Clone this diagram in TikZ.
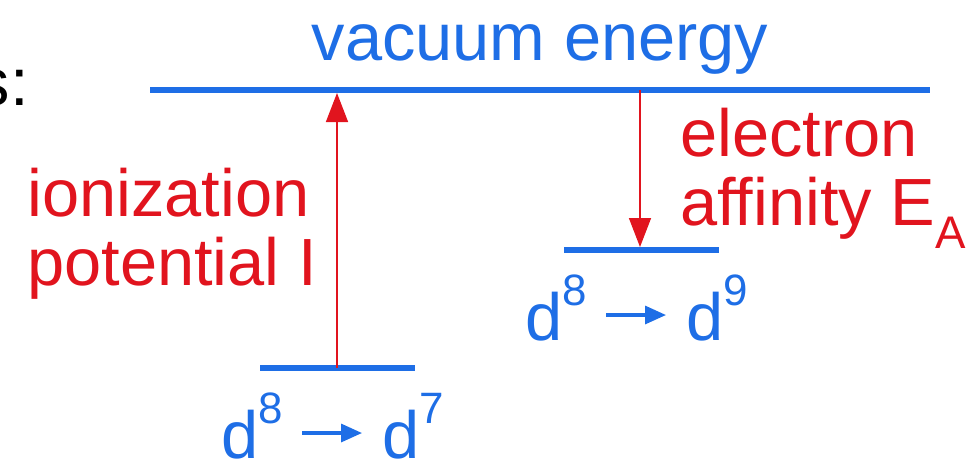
\documentclass[tikz,border=0pt]{standalone}
\usepackage{fontspec}
\setmainfont{Liberation Sans}
\usetikzlibrary{arrows.meta}
\definecolor{vblue}{RGB}{30,110,230}
\definecolor{ered}{RGB}{225,20,30}
% d^n -> d^m configuration label
\newcommand{\cfg}[2]{d\raisebox{0.7cm}{\fontsize{25}{25}\selectfont #1}\hspace{0.35cm}\tikz[baseline={(0,-0.5cm)}]\draw[vblue,line width=0.065cm,-{Triangle[length=0.42cm,width=0.36cm]}] (0,0) -- (1.2cm,0);\hspace{0.38cm}d\raisebox{0.7cm}{\fontsize{25}{25}\selectfont #2}}

\begin{document}
\begin{tikzpicture}[x=0.02cm,y=-0.02cm,
  lbl/.style={font=\fontsize{38}{39}\selectfont, inner sep=0pt},
  level/.style={draw=vblue, line width=0.12cm},
  excite/.style={draw=ered, line width=0.03cm, -{Triangle[length=0.58cm,width=0.44cm]}}]
\useasboundingbox (0,0) rectangle (968,461);
\clip (0,0) rectangle (968,461);
\node[lbl, anchor=base east] (colon) at (29,105) {s:};
\node[lbl, text=vblue, anchor=base] (vac) at (540,60) {vacuum energy};
% levels
\coordinate (vacL) at (150,90); \coordinate (vacR) at (930,90);
\coordinate (ionL) at (260,368); \coordinate (ionR) at (415,368);
\coordinate (affL) at (564,250); \coordinate (affR) at (719,250);
\draw[level] (vacL) -- (vacR);
\draw[level] (ionL) -- (ionR);
\draw[level] (affL) -- (affR);
% transitions
\coordinate (ionlow) at (337,368); \coordinate (iontop) at (337,93);
\coordinate (afftop) at (640,90); \coordinate (afflow) at (640,247);
\draw[excite] (ionlow) -- (iontop);
\draw[excite] (afftop) -- (afflow);
\node[lbl, text=ered, align=left, anchor=base west] (ionlbl) at (27,285) {ionization\\potential I};
\node[lbl, text=ered, align=left, anchor=base west] (afflbl) at (680,225) {electron\\affinity E\raisebox{-0.46cm}{\fontsize{26}{26}\selectfont A}};
\node[lbl, text=vblue, anchor=base west] (d9) at (525,340) {\cfg{8}{9}};
\node[lbl, text=vblue, anchor=base west] (d7) at (221,458) {\cfg{8}{7}};
\end{tikzpicture}
\end{document}
